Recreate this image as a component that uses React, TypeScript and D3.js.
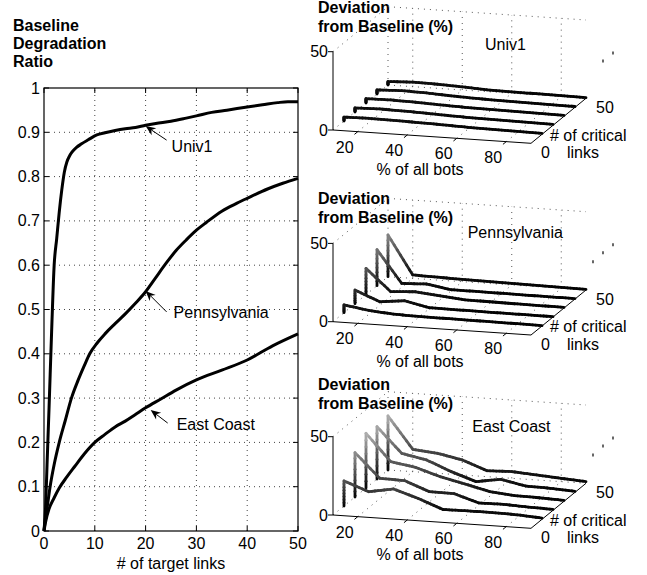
import React from "react";
import * as d3 from "d3";

const FONT = "'Liberation Sans', Arial, Helvetica, sans-serif";

// ---------- Left chart data ----------
const targetLinkTicks = [0, 10, 20, 30, 40, 50];
const ratioTicks = [0, 0.1, 0.2, 0.3, 0.4, 0.5, 0.6, 0.7, 0.8, 0.9, 1];

const univ1Curve: [number, number][] = [
  [0, 0], [0.3, 0.05], [0.6, 0.15], [1, 0.28], [1.5, 0.45], [2, 0.6], [2.5, 0.66], [3, 0.72],
  [3.5, 0.77], [4, 0.81], [4.5, 0.833], [5, 0.846], [5.5, 0.855], [6.4, 0.866], [7.4, 0.874],
  [8.7, 0.883], [10.4, 0.894], [12, 0.899], [14, 0.904], [16, 0.908], [18, 0.911],
  [20, 0.916], [22, 0.92], [25, 0.925], [28, 0.932], [30, 0.937], [33, 0.945], [36, 0.95],
  [40, 0.957], [43, 0.962], [46, 0.967], [48, 0.969], [50, 0.969],
];
const pennCurve: [number, number][] = [
  [0, 0], [0.3, 0.03], [0.7, 0.06], [1.2, 0.1], [2, 0.15], [3, 0.2], [4.2, 0.25], [5.4, 0.3],
  [6.7, 0.34], [8, 0.375], [9, 0.4], [10.5, 0.425], [12, 0.445], [14, 0.468], [16, 0.49],
  [18, 0.514], [20, 0.54], [22, 0.572], [24, 0.604], [26, 0.633], [28, 0.657], [30, 0.679],
  [32, 0.697], [35, 0.722], [38, 0.74], [40, 0.751], [44, 0.772], [47, 0.785], [50, 0.796],
];
const eastCurve: [number, number][] = [
  [0, 0], [0.3, 0.02], [1, 0.05], [2, 0.075], [3, 0.097], [4.5, 0.122], [6, 0.145], [8, 0.175],
  [10, 0.2], [12, 0.218], [14, 0.235], [16, 0.248], [18, 0.263], [20, 0.278], [23, 0.298],
  [26, 0.318], [30, 0.341], [35, 0.363], [40, 0.386], [45, 0.418], [50, 0.445],
];

const annotations = [
  { label: "Univ1", x: 20, y: 0.914, tail: [21, 14], text: [26, 26] },
  { label: "Pennsylvania", x: 20, y: 0.542, tail: [21, 21], text: [28, 27] },
  { label: "East Coast", x: 21, y: 0.273, tail: [17, 13], text: [26, 20] },
];

// ---------- 3D panels data ----------
const botsPct = [10, 20, 30, 40, 50, 60, 70, 80, 90];
const criticalLinks = [10, 20, 30, 40, 50];
const botTicks = [20, 40, 60, 80];
const critTicks = [0, 50];
const devTicks = [0, 50];

const univ1Dev = [
  [2.5, 2.8, 2.5, 2.2, 1.8, 1.3, 1.0, 0.8, 0.6],
  [2.6, 3.0, 2.7, 2.2, 1.6, 1.2, 1.0, 0.8, 0.6],
  [2.8, 3.0, 2.6, 2.0, 1.5, 1.2, 1.0, 0.8, 0.6],
  [2.6, 3.2, 2.8, 2.0, 1.4, 1.1, 0.9, 0.7, 0.5],
  [2.2, 2.9, 2.6, 2.0, 1.2, 0.9, 0.8, 0.6, 0.4],
];
const pennDev = [
  [5.0, 2.5, 1.2, 0.8, 0.7, 0.6, 0.5, 0.4, 0.3],
  [8.7, 2.3, 4.0, 0.6, 0.5, 0.4, 0.3, 0.3, 0.2],
  [16.8, 3.0, 4.0, 2.5, 1.0, 0.8, 0.6, 0.5, 0.4],
  [23.0, 2.5, 3.2, 0.6, 0.6, 0.5, 0.4, 0.3, 0.3],
  [26.6, 2.2, 1.8, 1.5, 1.3, 1.1, 0.8, 0.6, 0.4],
];
const eastDev = [
  [16.0, 10.2, 13.0, 8.0, 2.0, 2.2, 2.2, 1.8, 0.8],
  [28.3, 13.0, 12.6, 6.6, 6.4, 1.5, 1.7, 1.0, 0.6],
  [34.9, 17.9, 15.3, 10.4, 6.8, 3.0, 1.5, 1.2, 0.6],
  [33.4, 17.4, 14.3, 7.9, 2.6, 5.1, 1.9, 1.5, 0.6],
  [34.5, 14.3, 12.8, 9.6, 3.8, 4.3, 3.2, 2.1, 1.1],
];

// ---------- helpers ----------
function Arrow({ x1, y1, x2, y2 }: { x1: number; y1: number; x2: number; y2: number }) {
  const a = Math.atan2(y2 - y1, x2 - x1);
  const L = 10, W = 4.2, N = 7;
  const c = Math.cos(a), s = Math.sin(a);
  const p = (u: number, v: number) => `${x2 - u * c - v * s},${y2 - u * s + v * c}`;
  return (
    <g>
      <line x1={x1} y1={y1} x2={x2 - N * c} y2={y2 - N * s} stroke="#000" strokeWidth={1} />
      <polygon points={`${p(0, 0)} ${p(L, W)} ${p(N, 0)} ${p(L, -W)}`} fill="#000" />
    </g>
  );
}

function LeftChart() {
  const x = d3.scaleLinear().domain([0, 50]).range([44, 298]);
  const y = d3.scaleLinear().domain([0, 1]).range([531, 88]);
  const line = d3.line<[number, number]>().x((d) => x(d[0])).y((d) => y(d[1])).curve(d3.curveMonotoneX);
  const fmt = (v: number) => (v === 0 ? "0" : v === 1 ? "1" : d3.format(".1f")(v));
  const [x0, x1] = x.range();
  const [y0, y1] = y.range();
  return (
    <g fontFamily={FONT} fontSize={16}>
      <text x={13} y={31} fontWeight="bold">Baseline</text>
      <text x={13} y={48.5} fontWeight="bold">Degradation</text>
      <text x={13} y={66.5} fontWeight="bold">Ratio</text>
      {targetLinkTicks.slice(1, -1).map((t) => (
        <line key={"gx" + t} x1={x(t)} x2={x(t)} y1={y0} y2={y1} stroke="#444" strokeDasharray="1 4" />
      ))}
      {ratioTicks.slice(1, -1).map((t) => (
        <line key={"gy" + t} y1={y(t)} y2={y(t)} x1={x0} x2={x1} stroke="#444" strokeDasharray="1 4" />
      ))}
      {targetLinkTicks.map((t) => (
        <g key={"tx" + t}>
          <line x1={x(t)} x2={x(t)} y1={y0} y2={y0 - 5} stroke="#000" />
          <line x1={x(t)} x2={x(t)} y1={y1} y2={y1 + 5} stroke="#000" />
          <text x={x(t)} y={548.5} textAnchor="middle">{t}</text>
        </g>
      ))}
      {ratioTicks.map((t) => (
        <g key={"ty" + t}>
          <line y1={y(t)} y2={y(t)} x1={x0} x2={x0 + 5} stroke="#000" />
          <line y1={y(t)} y2={y(t)} x1={x1} x2={x1 - 5} stroke="#000" />
          <text x={40} y={y(t) + 5.5} textAnchor="end">{fmt(t)}</text>
        </g>
      ))}
      <rect x={x0} y={y1} width={x1 - x0} height={y0 - y1} fill="none" stroke="#000" strokeWidth={1.2} />
      {[univ1Curve, pennCurve, eastCurve].map((c, i) => (
        <path key={i} d={line(c) || ""} fill="none" stroke="#000" strokeWidth={3} strokeLinejoin="round" />
      ))}
      {annotations.map((a) => {
        const tx = x(a.x), ty = y(a.y);
        return (
          <g key={a.label}>
            <Arrow x1={tx + a.tail[0]} y1={ty + a.tail[1]} x2={tx} y2={ty} />
            <text x={tx + a.text[0]} y={ty + a.text[1]}>{a.label}</text>
          </g>
        );
      })}
      <text x={(x0 + x1) / 2} y={568.5} textAnchor="middle"># of target links</text>
    </g>
  );
}

function Panel({ oy, titleDy, name, nameX, nameDy, dev, marks }: {
  oy: number; titleDy: number; name: string; nameX: number; nameDy: number; dev: number[][]; marks: number;
}) {
  const ox = 333;
  const xsX = d3.scaleLinear().domain([10, 90]).range([0, 198]);
  const xsY = d3.scaleLinear().domain([10, 90]).range([0, 13.3]);
  const dsX = d3.scaleLinear().domain([0, 50]).range([0, 55]);
  const dsY = d3.scaleLinear().domain([0, 50]).range([0, -45]);
  const zs = d3.scaleLinear().domain([0, 50]).range([0, -78.3]);
  const color = d3.scaleLinear<string>().domain([0, 50]).range(["#000000", "#ffffff"]).clamp(true);
  const P = (x: number, d: number, z: number): [number, number] => [
    ox + xsX(x) + dsX(d),
    oy + xsY(x) + dsY(d) + zs(z),
  ];
  const L = (a: [number, number], b: [number, number], props: any, key: string) => (
    <line key={key} x1={a[0]} y1={a[1]} x2={b[0]} y2={b[1]} {...props} />
  );
  const dotted = { stroke: "#555", strokeDasharray: "1 5", strokeWidth: 1 };
  const solid = { stroke: "#000", strokeWidth: 1 };
  const grid: any[] = [];
  [10, ...botTicks].forEach((b) => grid.push(L(P(b, 50, 0), P(b, 50, 50), dotted, "bw" + b)));
  devTicks.forEach((z) => grid.push(L(P(10, 50, z), P(90, 50, z), dotted, "bh" + z)));
  grid.push(L(P(10, 0, 50), P(10, 50, 50), dotted, "lt"));
  grid.push(L(P(10, 0, 0), P(10, 50, 0), dotted, "lf"));
  botTicks.forEach((b) => grid.push(L(P(b, 0, 0), P(b, 50, 0), dotted, "fl" + b)));

  const segs: any[] = [];
  const n = 8;
  for (let i = dev.length - 1; i >= 0; i--) {
    const d = criticalLinks[i];
    const pts: [number, number][] = [[botsPct[0], 0], ...botsPct.map((b, j) => [b, dev[i][j]] as [number, number])];
    for (let k = 0; k < pts.length - 1; k++) {
      const [xa, za] = pts[k];
      const [xb, zb] = pts[k + 1];
      for (let m = 0; m < n; m++) {
        const t0 = m / n, t1 = (m + 1) / n;
        const p0 = P(xa + (xb - xa) * t0, d, za + (zb - za) * t0);
        const p1 = P(xa + (xb - xa) * t1, d, za + (zb - za) * t1);
        const zm = za + (zb - za) * (t0 + t1) / 2;
        segs.push(
          <line key={`s${i}-${k}-${m}`} x1={p0[0]} y1={p0[1]} x2={p1[0]} y2={p1[1]}
            stroke={color(zm)} strokeWidth={2.8} strokeLinecap="round" />
        );
      }
    }
  }

  const markPts = [[593, -60], [603, -69], [613, -77]].slice(3 - marks);

  return (
    <g fontFamily={FONT} fontSize={16}>
      <text x={318} y={oy + titleDy} fontWeight="bold">Deviation</text>
      <text x={318} y={oy + titleDy + 19} fontWeight="bold">from Baseline (%)</text>
      {grid}
      {markPts.map((m, i) => (
        <line key={"mk" + i} x1={m[0]} x2={m[0]} y1={oy + m[1] - 1.5} y2={oy + m[1] + 1.5} stroke="#000" strokeWidth={1.2} />
      ))}
      <text x={nameX} y={oy + nameDy}>{name}</text>
      {L(P(10, 0, 0), P(10, 0, 50), solid, "za")}
      {L(P(10, 0, 0), P(90, 0, 0), solid, "xa")}
      {L(P(90, 0, 0), P(90, 50, 0), solid, "da")}
      {devTicks.map((z) => {
        const p = P(10, 0, z);
        return (
          <g key={"zt" + z}>
            <line x1={p[0] - 5} x2={p[0]} y1={p[1]} y2={p[1]} stroke="#000" />
            <text x={p[0] - 5} y={p[1] + 5.5} textAnchor="end">{z}</text>
          </g>
        );
      })}
      {botTicks.map((b) => {
        const p = P(b, 0, 0);
        const q = P(b, -3, 0);
        return (
          <g key={"bt" + b}>
            <line x1={p[0]} y1={p[1]} x2={q[0]} y2={q[1]} stroke="#000" />
            <text x={p[0] - 13} y={p[1] + 21} textAnchor="middle">{b}</text>
          </g>
        );
      })}
      {critTicks.map((c) => {
        const p = P(90, c, 0);
        return <text key={"ct" + c} x={p[0] + 10} y={p[1] + 15} textAnchor="start">{c}</text>;
      })}
      <text x={P(50, 0, 0)[0] - 12} y={oy + 45} textAnchor="middle">% of all bots</text>
      <text x={550} y={oy + 10.7}># of critical</text>
      <text x={567} y={oy + 28.3}>links</text>
      {segs}
    </g>
  );
}

export default function App() {
  return (
    <svg width={647} height={575} style={{ position: "absolute", left: 0, top: 0, background: "#fff" }}>
      <rect x={0} y={0} width={647} height={575} fill="#fff" />
      <LeftChart />
      <Panel oy={130} titleDy={-116.7} name="Univ1" nameX={485} nameDy={-80} dev={univ1Dev} marks={2} />
      <Panel oy={321.7} titleDy={-117.4} name="Pennsylvania" nameX={467.7} nameDy={-83.4} dev={pennDev} marks={3} />
      <Panel oy={515} titleDy={-125} name="East Coast" nameX={472.3} nameDy={-83.3} dev={eastDev} marks={3} />
    </svg>
  );
}
